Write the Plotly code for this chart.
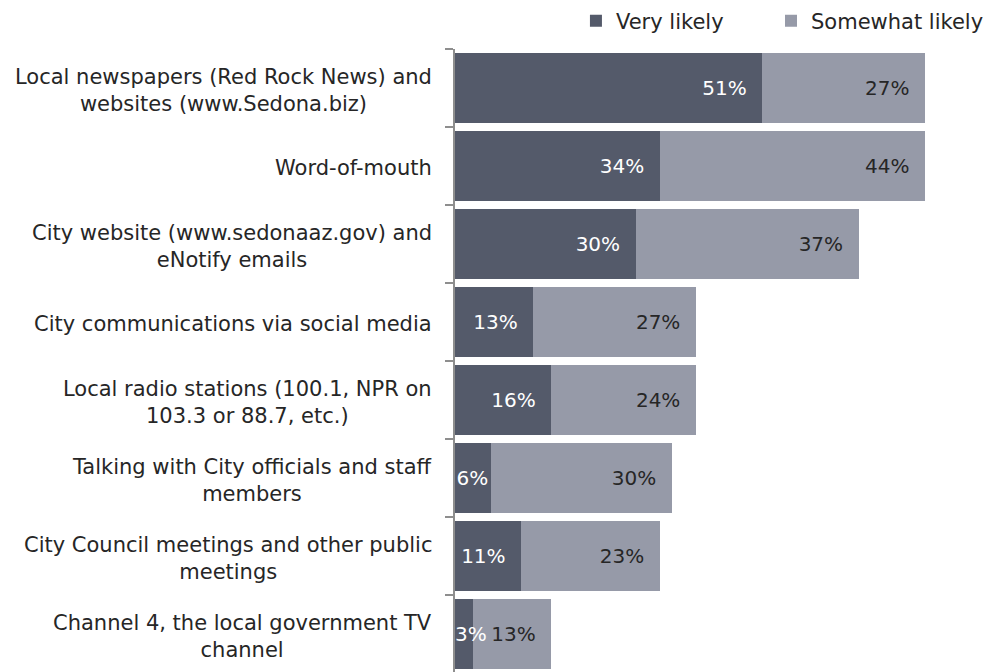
import plotly.graph_objects as go

categories = [
    "Local newspapers (Red Rock News) and<br>websites (www.Sedona.biz)",
    "Word-of-mouth",
    "City website (www.sedonaaz.gov) and<br>eNotify emails",
    "City communications via social media",
    "Local radio stations (100.1, NPR on<br>103.3 or 88.7, etc.)",
    "Talking with City officials and staff<br>members",
    "City Council meetings and other public<br>meetings",
    "Channel 4, the local government TV<br>channel",
]
very_likely = [51, 34, 30, 13, 16, 6, 11, 3]
somewhat_likely = [27, 44, 37, 27, 24, 30, 23, 13]

FONT = "DejaVu Sans"
DARK = "#545a6a"
LIGHT = "#969aa8"
TXT = "#262626"
AXIS = "#8e8e8e"


def label(v):
    # inside-end label with a little right padding when the bar is wide enough
    pad = "\u00a0\u00a0" if v >= 10 else ""
    return f"{v}%{pad}"


# bars too narrow for their label get it centred on the bar end instead
dark_pos = ["none" if v < 5 else "inside" for v in very_likely]

fig = go.Figure()
fig.add_trace(go.Bar(
    y=categories, x=very_likely, orientation="h", name="Very likely",
    marker=dict(color=DARK, line=dict(width=0)),
    text=[label(v) for v in very_likely], textposition=dark_pos, textangle=0,
    insidetextanchor="end", textfont=dict(color="white", size=20, family=FONT),
    legend="legend",
))
fig.add_trace(go.Bar(
    y=categories, x=somewhat_likely, orientation="h", name="Somewhat likely",
    marker=dict(color=LIGHT, line=dict(width=0)),
    text=[label(v) for v in somewhat_likely], textposition="inside", textangle=0,
    insidetextanchor="end", textfont=dict(color=TXT, size=20, family=FONT),
    legend="legend2",
))

for c, v, p in zip(categories, very_likely, dark_pos):
    if p == "none":
        fig.add_annotation(x=v, xref="x", y=c, yref="y", text=f"{v}%",
                           showarrow=False, xanchor="center", xshift=-2,
                           font=dict(size=20, color="white", family=FONT))

for c in categories:
    fig.add_annotation(x=0, xref="paper", y=c, yref="y", text=c, showarrow=False,
                       xanchor="right", align="center", xshift=-21, yshift=-2,
                       font=dict(size=21, color=TXT, family=FONT))

legend_common = dict(orientation="h", yanchor="middle", y=1.0 + 28 / 624,
                     xanchor="right", itemwidth=30,
                     font=dict(size=21, color=TXT, family=FONT))

fig.update_layout(
    barmode="stack",
    bargap=0.09,
    width=989, height=673,
    margin=dict(l=455, r=0, t=49, b=0),
    paper_bgcolor="white", plot_bgcolor="white",
    font=dict(family=FONT, size=20, color=TXT),
    uniformtext=dict(mode="show", minsize=20),
    legend=dict(x=0.513, **legend_common),
    legend2=dict(x=1.0, **legend_common),
    showlegend=True,
)
fig.update_xaxes(range=[0, 88.6], visible=False)
fig.update_yaxes(autorange="reversed", showline=True, linecolor=AXIS,
                 linewidth=2, ticks="outside", ticklen=8, tickwidth=2,
                 tickcolor=AXIS, tickson="boundaries", showticklabels=False,
                 showgrid=False, automargin=False)

fig.write_html(
    "out.html",
    config={"displayModeBar": False},
    post_script="document.body.style.margin='0';"
                "document.body.style.overflow='hidden';",
)
